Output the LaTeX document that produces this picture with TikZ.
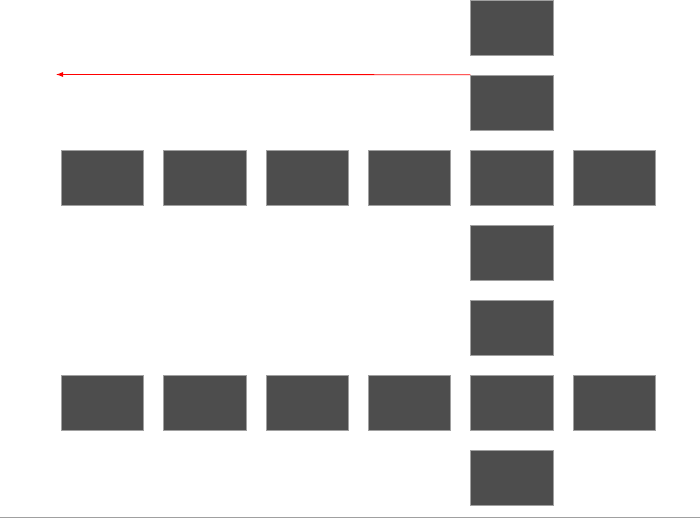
\documentclass[tikz,border=0pt]{standalone}
\usepackage{tikz}
\usetikzlibrary{arrows.meta, positioning}
\definecolor{mydark}{RGB}{77,77,77}
\definecolor{myedge}{RGB}{160,160,160}
\definecolor{myred}{RGB}{255,0,0}

\begin{document}
\begin{tikzpicture}[x=1pt,y=-1pt,
    cellbox/.style={draw=myedge, line width=0.6pt, fill=mydark, minimum width=82.5pt, minimum height=55pt, inner sep=0pt}]
    \useasboundingbox (0,0) rectangle (700,518);

    % horizontal rows of cells
    \foreach \r/\y in {a/177.5, b/402.5}
        \foreach \c in {1,...,6}
            \node[cellbox] (\r-\c) at ({102.25+102.4*(\c-1)},\y) {};

    % vertical column of cells
    \foreach \k/\y in {1/27.5, 2/102.5, 3/252.5, 4/327.5, 5/477.5}
        \node[cellbox] (col-\k) at (511.85,\y) {};

    % base line
    \coordinate (baseleft) at (0,517.5);
    \coordinate (baseright) at (700,517.5);
    \draw[myedge, line width=1pt] (baseleft) -- (baseright);

    % arrow
    \coordinate (tip) at (56,74.5);
    \draw[-{Latex[length=7pt,width=5pt]}, myred, line width=0.8pt] (col-2.north west) -- (tip);
\end{tikzpicture}
\end{document}
